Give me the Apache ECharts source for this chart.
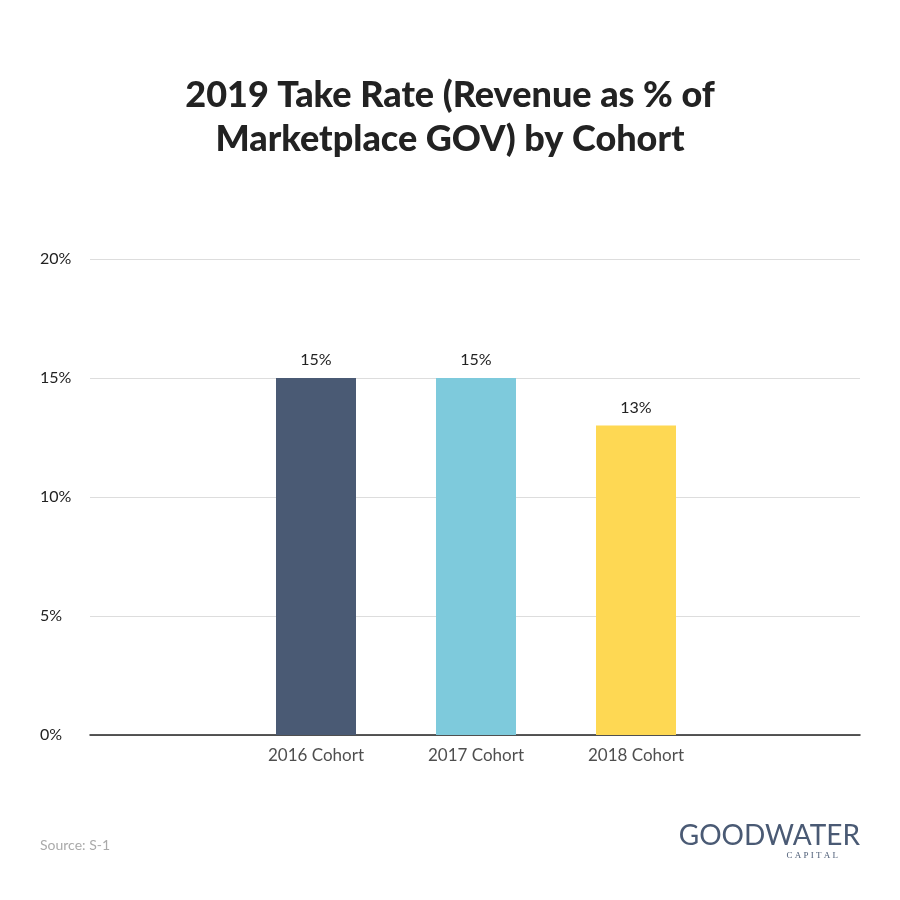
<!DOCTYPE html>
<html><head><meta charset="utf-8">
<script src="https://cdn.jsdelivr.net/npm/echarts@6/dist/echarts.min.js"></script>
<style>html,body{margin:0;background:#fff}#c{width:900px;height:900px}</style>
</head><body><div id="c"></div>
<script>
const categories = ['2016 Cohort', '2017 Cohort', '2018 Cohort'];
const values = [15, 15, 13];
const colors = ['#4a5a74', '#7ecadc', '#fed853'];
const yTicks = [0, 5, 10, 15, 20];
const chart = echarts.init(document.getElementById('c'));
chart.setOption({
  animation: false,
  title: {
    text: '2019 Take Rate (Revenue as % of\nMarketplace GOV) by Cohort',
    left: 'center', top: 68,
    textStyle: {fontFamily: 'Lato', fontWeight: 900, fontSize: 36, color: '#222', lineHeight: 44}
  },
  graphic: [
    {type: 'text', left: 40, top: 838, style: {text: 'Source: S-1', fill: '#aaa', font: '14px Lato'}},
    {type: 'text', right: 40, top: 822, style: {text: 'GOODWATER', fill: '#4a5a74', font: '28px Lato', letterSpacing: 2}},
    {type: 'text', right: 62, top: 851, style: {text: 'C A P I T A L', fill: '#4a5a74', font: '9px serif'}}
  ],
  grid: {left: 90, right: 40, top: 259, bottom: 165},
  xAxis: {
    type: 'value', min: -0.4125, max: 4.4,
    axisLine: {show: true, onZero: false, lineStyle: {color: '#222', width: 1.5}},
    axisTick: {show: false}, axisLabel: {show: false}, splitLine: {show: false}
  },
  yAxis: {
    type: 'value', min: yTicks[0], max: yTicks[yTicks.length - 1], interval: 5,
    axisLine: {show: false}, axisTick: {show: false},
    axisLabel: {formatter: '{value}%', color: '#222', fontSize: 16, fontFamily: 'Lato', align: 'left', margin: 50},
    splitLine: {lineStyle: {color: '#ddd'}}
  },
  series: [{
    type: 'bar', data: values.map((v, i) => [i + 1, v]), barWidth: 80,
    itemStyle: {color: p => colors[p.dataIndex]},
    label: {show: true, position: 'top', formatter: p => p.value[1] + '%', color: '#222', fontSize: 16, fontFamily: 'Lato', distance: 10}
  }, {
    type: 'scatter', symbolSize: 0, silent: true,
    data: categories.map((c, i) => [i + 1, 0]),
    label: {show: true, position: 'bottom', distance: 12, formatter: p => categories[p.dataIndex], color: '#222', fontSize: 17, fontFamily: 'Lato'}
  }]
});
</script></body></html>
